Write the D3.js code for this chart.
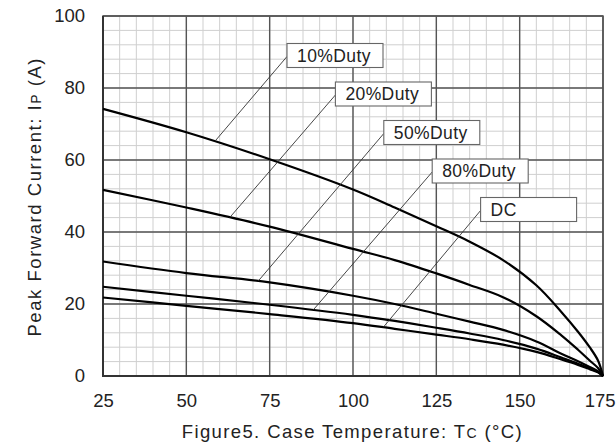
<!DOCTYPE html>
<html>
<head>
<meta charset="utf-8">
<script src="https://cdn.jsdelivr.net/npm/d3@7"></script>
<style>
  html, body { margin: 0; padding: 0; background: #fff; }
  svg { display: block; font-family: "Liberation Sans", Arial, Helvetica, sans-serif; }
</style>
</head>
<body>
<svg id="chart" width="616" height="445"></svg>
<script>
// case temperature samples (°C) shared by all curves
const tempC   = [25, 50, 75, 100, 112.5, 125, 135, 145, 155, 162.5, 167.5, 171, 173.5, 175];
// peak forward current (A) for each duty condition
const duty10  = [74.2, 67.7, 60.2, 51.8, 46.8, 41.6, 37.3, 32.2, 25.2, 17.8, 12.3, 8.0, 4.3, 0];
const duty20  = [51.7, 46.8, 41.5, 35.3, 32.2, 28.5, 25.3, 21.9, 16.6, 11.3, 7.3, 4.3, 2.2, 0];
const duty50  = [31.8, 28.6, 26.0, 22.3, 20.0, 17.3, 15.1, 12.8, 9.6, 6.2, 4.1, 2.5, 1.3, 0];
const duty80  = [24.8, 22.3, 19.8, 17.0, 15.3, 13.4, 11.8, 10.0, 7.6, 5.1, 3.4, 2.1, 1.1, 0];
const dutyDC  = [21.8, 19.5, 17.2, 14.7, 13.1, 11.5, 10.2, 8.7, 6.7, 4.6, 3.1, 1.9, 1.0, 0];

const seriesNames = ["10%Duty", "20%Duty", "50%Duty", "80%Duty", "DC"];
const seriesValues = [duty10, duty20, duty50, duty80, dutyDC];

// where each leader line touches its curve (°C)
const labelAtTemp = [58.6, 63.1, 71.6, 88.1, 109.1];

const xTicks = [25, 50, 75, 100, 125, 150, 175];
const yTicks = [0, 20, 40, 60, 80, 100];

const svg = d3.select('#chart');

const x = d3.scaleLinear().domain([25, 175]).range([103, 603]);
const y = d3.scaleLinear().domain([0, 100]).range([376, 16]);

// grid: minor every 5°C / 4A, major every 25°C / 20A
const grid = svg.append('g').attr('class', 'grid');
grid.selectAll('line.vminor')
    .data(d3.range(25, 176, 5))
    .enter().append('line')
    .attr('x1', d => x(d)).attr('x2', d => x(d))
    .attr('y1', y(0)).attr('y2', y(100))
    .attr('stroke', '#cfcfcf').attr('stroke-width', 1);
grid.selectAll('line.hminor')
    .data(d3.range(0, 101, 4))
    .enter().append('line')
    .attr('x1', x(25)).attr('x2', x(175))
    .attr('y1', d => y(d)).attr('y2', d => y(d))
    .attr('stroke', '#cfcfcf').attr('stroke-width', 1);
grid.selectAll('line.vmajor')
    .data(xTicks)
    .enter().append('line')
    .attr('x1', d => x(d)).attr('x2', d => x(d))
    .attr('y1', y(0)).attr('y2', y(100))
    .attr('stroke', '#555').attr('stroke-width', 1.4);
grid.selectAll('line.hmajor')
    .data(yTicks)
    .enter().append('line')
    .attr('x1', x(25)).attr('x2', x(175))
    .attr('y1', d => y(d)).attr('y2', d => y(d))
    .attr('stroke', '#555').attr('stroke-width', 1.4);

// frame, left and bottom a bit heavier
svg.append('rect')
    .attr('x', x(25)).attr('y', y(100))
    .attr('width', x(175) - x(25)).attr('height', y(0) - y(100))
    .attr('fill', 'none').attr('stroke', '#555').attr('stroke-width', 1.5);
svg.append('path')
    .attr('d', `M${x(25)},${y(100)}V${y(0)}H${x(175)}`)
    .attr('fill', 'none').attr('stroke', '#333').attr('stroke-width', 2);

// axes (labels only)
const xAxis = svg.append('g')
    .attr('transform', `translate(0,${y(0)})`)
    .call(d3.axisBottom(x).tickValues(xTicks).tickSize(0).tickPadding(18).tickFormat(d3.format('d')));
const yAxis = svg.append('g')
    .attr('transform', `translate(${x(25)},0)`)
    .call(d3.axisLeft(y).tickValues(yTicks).tickSize(0).tickPadding(18).tickFormat(d3.format('d')));
[xAxis, yAxis].forEach(a => {
    a.select('.domain').remove();
    a.selectAll('text')
        .attr('fill', '#222')
        .style('font-size', '18.5px')
        .style('font-family', '"Liberation Sans", Arial, sans-serif');
});
// last x label sits at the page edge: keep it inside
xAxis.selectAll('.tick').filter(d => d === 175).select('text')
    .attr('text-anchor', 'end').attr('x', 615 - x(175));

// curves
const line = d3.line()
    .x((d, i) => x(tempC[i]))
    .y(d => y(d))
    .curve(d3.curveCatmullRom.alpha(0.5));

const curvePaths = svg.append('g').selectAll('path.curve')
    .data(seriesValues)
    .enter().append('path')
    .attr('class', 'curve')
    .attr('d', line)
    .attr('fill', 'none')
    .attr('stroke', '#000')
    .attr('stroke-width', 2.2);

// find point on a rendered curve at a given x pixel
function pointAtX(node, px) {
    let lo = 0, hi = node.getTotalLength();
    for (let k = 0; k < 40; k++) {
        const mid = (lo + hi) / 2;
        if (node.getPointAtLength(mid).x < px) lo = mid; else hi = mid;
    }
    return node.getPointAtLength(lo);
}

// label boxes, stepped down and right
const boxW = 96, boxH = 24;
const labels = svg.append('g');
curvePaths.each(function(d, i) {
    const p = pointAtX(this, x(labelAtTemp[i]));
    const bx = 287 + i * 48.4;
    const by = 43.5 + i * 38.5;
    labels.append('line')
        .attr('x1', p.x).attr('y1', p.y)
        .attr('x2', bx).attr('y2', by + boxH / 2 + 1)
        .attr('stroke', '#333').attr('stroke-width', 0.9);
    labels.append('rect')
        .attr('x', bx).attr('y', by)
        .attr('width', boxW).attr('height', boxH)
        .attr('fill', '#fff').attr('stroke', '#666').attr('stroke-width', 1.1);
    labels.append('text')
        .attr('x', bx + 10).attr('y', by + boxH / 2 + 6.3)
        .attr('fill', '#222')
        .style('font-size', '17.5px')
        .style('letter-spacing', '0.4px')
        .text(seriesNames[i]);
});

// axis titles
const xt = svg.append('text')
    .attr('x', 351.7).attr('y', 438)
    .attr('text-anchor', 'middle')
    .attr('fill', '#222')
    .attr('textLength', 340).attr('lengthAdjust', 'spacing')
    .style('font-size', '18.5px');
xt.append('tspan').text('Figure5. Case Temperature: T');
xt.append('tspan').style('font-size', '14px').text('C');
xt.append('tspan').text(' (°C)');

const yt = svg.append('text')
    .attr('transform', 'translate(41,197.5) rotate(-90)')
    .attr('text-anchor', 'middle')
    .attr('fill', '#222')
    .attr('textLength', 278).attr('lengthAdjust', 'spacing')
    .style('font-size', '18.5px');
yt.append('tspan').text('Peak Forward Current: I');
yt.append('tspan').style('font-size', '14px').text('P');
yt.append('tspan').text(' (A)');
</script>
</body>
</html>
